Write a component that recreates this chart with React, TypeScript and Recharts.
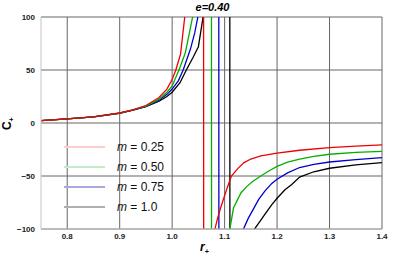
import { LineChart, Line, XAxis, YAxis, CartesianGrid, Legend } from 'recharts'

// axis ticks
const xTicks = [0.8, 0.9, 1.0, 1.1, 1.2, 1.3, 1.4]
const yTicks = [-100, -50, 0, 50, 100]

// C+ vs r+ for e = 0.40 (values beyond +-100 are clipped)
const m025X = [0.75, 0.8, 0.85, 0.9, 0.925, 0.95, 0.975, 0.99, 1.0, 1.007, 1.016, 1.024, 1.035, 1.059, 1.061, 1.075, 1.0815, 1.087, 1.0925, 1.099, 1.105, 1.113, 1.125, 1.137, 1.15, 1.169, 1.2, 1.243, 1.3, 1.35, 1.4]
const m025Y = [2.2, 3.8, 5.8, 9.5, 12.4, 16.5, 24, 32, 41, 50, 65, 100, 180, 1200, -1200, -200, -100, -89, -80, -70, -61, -50, -43, -37.4, -34, -31, -28.5, -25.7, -23.2, -21.8, -20.7]

const m050X = [0.75, 0.8, 0.85, 0.9, 0.925, 0.95, 0.975, 0.99, 1.0, 1.013, 1.025, 1.032, 1.039, 1.05, 1.074, 1.076, 1.1, 1.11, 1.117, 1.124, 1.131, 1.142, 1.154, 1.169, 1.185, 1.2, 1.22, 1.243, 1.27, 1.3, 1.35, 1.4]
const m050Y = [2.2, 3.8, 5.8, 9.4, 12.3, 16, 22.5, 29, 35, 50, 66, 83, 100, 180, 1200, -1200, -200, -100, -80, -73, -66, -60, -55, -50, -45, -41, -37, -34, -31.5, -29.5, -27.8, -26.7]

const m075X = [0.75, 0.8, 0.85, 0.9, 0.925, 0.95, 0.975, 0.99, 1.0, 1.012, 1.021, 1.035, 1.043, 1.049, 1.06, 1.088, 1.09, 1.125, 1.136, 1.145, 1.154, 1.165, 1.177, 1.19, 1.2, 1.22, 1.243, 1.27, 1.3, 1.35, 1.4]
const m075Y = [2.2, 3.8, 5.8, 9.3, 12.2, 15.7, 21.5, 27, 32, 40, 50, 70, 85, 100, 180, 1200, -1200, -200, -100, -90, -82, -72, -64, -57, -53, -47, -42, -39, -36.8, -34.5, -32.7]

const m100X = [0.75, 0.8, 0.85, 0.9, 0.925, 0.95, 0.975, 0.99, 1.0, 1.015, 1.027, 1.04, 1.05, 1.059, 1.07, 1.109, 1.111, 1.145, 1.157, 1.167, 1.177, 1.19, 1.2, 1.215, 1.228, 1.243, 1.27, 1.3, 1.35, 1.4]
const m100Y = [2.2, 3.8, 5.8, 9.2, 12.1, 15.4, 20.5, 25, 29, 38, 50, 62, 72, 100, 180, 1200, -1200, -200, -100, -93, -86, -77, -71, -63, -58, -51, -46, -42.7, -39.5, -37.4]

const zip = (xs: number[], ys: number[]) => xs.map((x, i) => ({ x, y: ys[i] }))

const series = [
  { label: '0.25', color: '#f00000', fade: '#ffcccc', data: zip(m025X, m025Y) },
  { label: '0.50', color: '#00b000', fade: '#c4ecc4', data: zip(m050X, m050Y) },
  { label: '0.75', color: '#0000cc', fade: '#a8a8e0', data: zip(m075X, m075Y) },
  { label: '1.0', color: '#000000', fade: '#b0b0b0', data: zip(m100X, m100Y) },
]

// minor tick positions
const xMinor: number[] = []
for (let i = 0; i <= 32; i++) xMinor.push(+(0.76 + i * 0.02).toFixed(2))
const yMinor: number[] = []
for (let v = -100; v <= 100; v += 10) yMinor.push(v)

const tickFont = { fontSize: 8, fontWeight: 'bold', fill: '#222', fontFamily: 'Liberation Sans, Arial, sans-serif' }
const frame = '#c4c4c4'

const fmtY = (v: number) => (v < 0 ? `\u2212${Math.abs(v)}` : `${v}`)

const LegendBox = () => (
  <div style={{ fontFamily: 'Liberation Sans, Arial, sans-serif', fontSize: 12, color: '#111' }}>
    {series.map((s) => (
      <div key={s.label} style={{ display: 'flex', alignItems: 'center', height: 20 }}>
        <div style={{ width: 41, height: 1.5, background: s.fade, marginRight: 12 }} />
        <span>
          <i>m</i> = {s.label}
        </span>
      </div>
    ))}
  </div>
)

export default function App() {
  return (
    <div style={{ position: 'absolute', left: 0, top: 0, width: 415, height: 259, background: '#fff' }}>
      <LineChart width={415} height={259} data={series[0].data} margin={{ top: 17, right: 33, bottom: 0, left: 0 }}>
        <CartesianGrid stroke="#666" strokeWidth={1} horizontalValues={yTicks} verticalValues={xTicks} />
        <XAxis
          type="number"
          dataKey="x"
          domain={[0.75, 1.4]}
          ticks={xTicks}
          allowDataOverflow
          height={30}
          tickSize={0}
          tickMargin={4}
          interval={0}
          tickFormatter={(v: number) => v.toFixed(1)}
          tick={tickFont}
          stroke={frame}
        />
        <YAxis
          type="number"
          domain={[-100, 100]}
          ticks={yTicks}
          allowDataOverflow
          width={41}
          tickSize={0}
          tickMargin={6}
          interval={0}
          tickFormatter={fmtY}
          tick={tickFont}
          stroke={frame}
        />
        <XAxis xAxisId="minorB" type="number" dataKey="x" domain={[0.75, 1.4]} ticks={xMinor} allowDataOverflow mirror height={0} tickSize={3} interval={0} tick={false} stroke={frame} />
        <XAxis xAxisId="minorT" orientation="top" type="number" dataKey="x" domain={[0.75, 1.4]} ticks={xMinor} allowDataOverflow mirror height={0} tickSize={3} interval={0} tick={false} stroke={frame} />
        <YAxis yAxisId="minorL" type="number" domain={[-100, 100]} ticks={yMinor} allowDataOverflow mirror width={0} tickSize={3} interval={0} tick={false} stroke={frame} />
        <YAxis yAxisId="minorR" orientation="right" type="number" domain={[-100, 100]} ticks={yMinor} allowDataOverflow mirror width={0} tickSize={3} interval={0} tick={false} stroke={frame} strokeWidth={2} />
        {[...series].reverse().map((s) => (
          <Line
            key={s.label}
            data={s.data}
            dataKey="y"
            name={`m = ${s.label}`}
            type="linear"
            stroke={s.color}
            strokeWidth={1.3}
            dot={false}
            activeDot={false}
            isAnimationActive={false}
          />
        ))}
        <Legend
          layout="vertical"
          align="center"
          verticalAlign="middle"
          content={() => <LegendBox />}
          wrapperStyle={{ left: 64, top: 137, width: 120 }}
        />
      </LineChart>
      <div
        style={{
          position: 'absolute', left: 0, width: 415, top: 0, textAlign: 'center', paddingLeft: 5,
          fontFamily: 'Liberation Sans, Arial, sans-serif', fontSize: 11, fontWeight: 'bold', fontStyle: 'italic', lineHeight: '14px',
        }}
      >
        e=0.40
      </div>
      <div
        style={{
          position: 'absolute', left: 200, top: 240, fontFamily: 'Liberation Sans, Arial, sans-serif',
          fontSize: 12, fontWeight: 'bold', fontStyle: 'italic', lineHeight: '14px',
        }}
      >
        r<sub style={{ fontSize: 7 }}>+</sub>
      </div>
      <div
        style={{
          position: 'absolute', left: 3, top: 114, transform: 'rotate(-90deg)', transformOrigin: 'center',
          fontFamily: 'Liberation Sans, Arial, sans-serif', fontSize: 12, fontWeight: 'bold', lineHeight: '14px',
        }}
      >
        C<sub style={{ fontSize: 7 }}>+</sub>
      </div>
    </div>
  )
}
